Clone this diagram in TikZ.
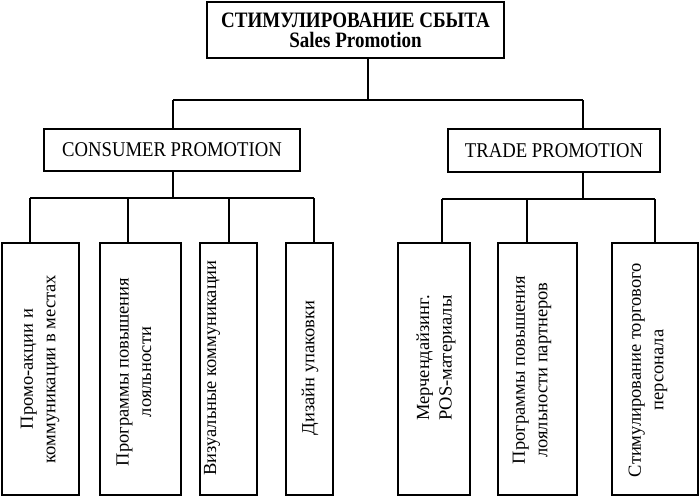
\documentclass[tikz,border=0pt]{standalone}
\usepackage{fontspec}
\setmainfont{Liberation Serif}
\newfontfamily\narrowfont[FakeStretch=0.89]{Liberation Serif}
\newfontfamily\titlefont[FakeStretch=0.865]{Liberation Serif}
\begin{document}
\begin{tikzpicture}[x=1pt,y=-1pt,line width=1.2pt,
  box/.style={draw=black,line width=1.4pt,inner sep=0pt},
  vtext/.style={rotate=90,align=center,inner sep=0pt,font=\fontsize{18.5}{22.5}\selectfont},
  htext/.style={font=\narrowfont\fontsize{21}{23}\selectfont}]
\useasboundingbox (0,0) rectangle (699,498);
% top
\node[box,minimum width=297pt,minimum height=56pt,align=center,
  font=\titlefont\bfseries\fontsize{22}{20}\selectfont] (top) at (355.5,30)
  {СТИМУЛИРОВАНИЕ СБЫТА\\Sales Promotion};
\node[box,minimum width=256pt,minimum height=42pt,htext] (cons) at (172,150) {CONSUMER PROMOTION};
\node[box,minimum width=212pt,minimum height=43pt,htext] (trade) at (554,150.5) {TRADE PROMOTION};
% bottom boxes
\node[box,minimum width=77pt,minimum height=252pt] (c1) at (40.5,369) {};
\node[box,minimum width=81pt,minimum height=252pt] (c2) at (140.5,369) {};
\node[box,minimum width=57pt,minimum height=252pt] (c3) at (228.5,369) {};
\node[box,minimum width=47pt,minimum height=252pt] (c4) at (309.5,369) {};
\node[box,minimum width=72pt,minimum height=252pt] (t1) at (434,369) {};
\node[box,minimum width=79pt,minimum height=252pt] (t2) at (537.5,369) {};
\node[box,minimum width=86pt,minimum height=252pt] (t3) at (655,369) {};
% texts
\node[vtext] (c1t) at (40,369) {Промо-акции и\\коммуникации в местах};
\node[vtext] (c2t) at (134,372) {Программы повышения\\лояльности};
\node[vtext] (c3t) at (212,368) {Визуальные коммуникации};
\node[vtext] (c4t) at (310,368) {Дизайн упаковки};
\node[vtext] (t1t) at (436,358) {Мерчендайзинг.\\POS-материалы};
\node[vtext] (t2t) at (532,370) {Программы повышения\\лояльности партнеров};
\node[vtext] (t3t) at (648,370) {Стимулирование торгового\\персонала};
% connectors level 1
\coordinate (j0) at (368,100);
\coordinate (jL) at (173,100);
\coordinate (jR) at (583,100);
\draw (top.south -| j0) -- (j0);
\draw (jL) -- (jR);
\draw (jL) -- (cons.north -| jL);
\draw (jR) -- (trade.north -| jR);
% consumer level
\coordinate (k0) at (173,198);
\coordinate (k1) at (30,198);
\coordinate (k2) at (128,198);
\coordinate (k3) at (229,198);
\coordinate (k4) at (314,198);
\draw (cons.south -| k0) -- (k0);
\draw (k1) -- (k4);
\draw (k1) -- (c1.north -| k1);
\draw (k2) -- (c2.north -| k2);
\draw (k3) -- (c3.north -| k3);
\draw (k4) -- (c4.north -| k4);
% trade level
\coordinate (m0) at (583,199);
\coordinate (m1) at (442,199);
\coordinate (m2) at (527,199);
\coordinate (m3) at (655,199);
\draw (trade.south -| m0) -- (m0);
\draw (m1) -- (m3);
\draw (m1) -- (t1.north -| m1);
\draw (m2) -- (t2.north -| m2);
\draw (m3) -- (t3.north -| m3);
\end{tikzpicture}
\end{document}
